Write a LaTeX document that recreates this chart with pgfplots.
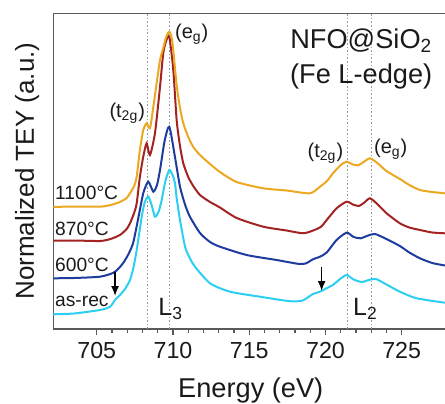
\documentclass[border=0pt]{standalone}
\usepackage{fontspec}
\setmainfont{Liberation Sans}
\usepackage{pgfplots}
\pgfplotsset{compat=1.18}
\usetikzlibrary{arrows.meta}
\definecolor{cyanc}{HTML}{2CCFF2}
\definecolor{bluec}{HTML}{1E3C9E}
\definecolor{redc}{HTML}{A32323}
\definecolor{yellowc}{HTML}{EBA820}
\definecolor{framec}{HTML}{5A5A5A}
\definecolor{txt}{HTML}{1A1A1A}
\begin{document}
\begin{tikzpicture}
\begin{axis}[
  at={(0,0)}, anchor=south west,
  scale only axis, width=200.5pt, height=157.85pt,
  xmin=702.15, xmax=728.45, ymin=74, ymax=389.7,
  axis line style={framec, line width=0.75pt},
  xtick={705,710,...,725}, minor x tick num=4,
  ytick=\empty,
  xtick pos=bottom, tick align=outside,
  major tick length=3pt, minor tick length=1.8pt,
  tick style={framec, line width=0.6pt},
  xticklabel style={font=\fontsize{11.6}{13}\selectfont, text=txt},
  /pgf/number format/assume math mode=true,
  /pgf/number format/1000 sep={},
  clip mode=individual,
]
% dotted guide lines
\addplot[gray!80, line width=0.5pt, dash pattern=on 0.8pt off 1pt] coordinates {(708.3,74) (708.3,389.7)};
\addplot[gray!80, line width=0.5pt, dash pattern=on 0.8pt off 1pt] coordinates {(709.8,74) (709.8,389.7)};
\addplot[gray!80, line width=0.5pt, dash pattern=on 0.8pt off 1pt] coordinates {(721.45,74) (721.45,389.7)};
\addplot[gray!80, line width=0.5pt, dash pattern=on 0.8pt off 1pt] coordinates {(723.05,74) (723.05,389.7)};

% as-rec
\addplot[cyanc, line width=1pt, smooth, tension=0.4] coordinates {
(702.13,88.7) (703.5,89.5) (705.21,93) (705.87,96.3) (706.20,103) (706.52,108) (706.85,114) (707.18,123) (707.4,135) (707.62,153) (707.95,186.3) (708.15,201) (708.38,206.3) (708.6,198) (708.82,186.3) (709.05,191) (709.26,203) (709.5,222) (709.76,233) (709.97,228) (710.13,220) (710.24,205) (710.46,183) (710.79,156.3) (711.1,145) (711.44,136.3) (712.43,119.7) (713.74,111.3) (715.70,106.3) (717.67,101.8) (718.5,102.5) (719.18,109) (719.64,111.3) (720.1,115) (720.49,118) (721.0,124.5) (721.39,128) (721.85,123.5) (722.37,121) (722.85,123) (723.31,124) (724.0,118.5) (724.88,111.3) (725.98,104.7) (727.84,100.3)
};
% 600 C
\addplot[bluec, line width=1pt, smooth, tension=0.4] coordinates {
(702.13,124.7) (703.5,125) (705.21,126.3) (706.06,130) (706.4,134) (706.72,139.7) (707.05,148) (707.38,159.7) (707.70,183) (708.05,209.7) (708.38,221.3) (708.71,211.3) (708.95,218) (709.15,233) (709.45,262) (709.76,276.3) (710.13,246) (710.46,216.3) (710.8,198) (711.11,186.3) (711.77,170) (712.43,161) (713.08,156.3) (714.83,148) (716.8,143) (718.2,139.2) (718.7,139.5) (719.18,143.7) (719.64,146.3) (720.08,150.5) (720.73,163) (721.39,170.3) (721.85,166) (722.3,164.7) (722.8,167.5) (723.25,169) (724.0,164) (724.88,157) (725.5,150.5) (726.2,144.7) (727.0,140) (727.84,137.5)
};
% 870 C
\addplot[redc, line width=1pt, smooth, tension=0.4] coordinates {
(702.13,162.3) (703.5,162.5) (705.21,162) (705.9,164) (706.52,168) (706.96,174) (707.18,179.7) (707.45,190) (707.62,199.7) (707.83,226.3) (708.05,246.3) (708.27,259.7) (708.49,248) (708.82,270) (709.15,316.3) (709.36,349.7) (709.55,362) (709.76,366.3) (710.02,333) (710.24,283) (710.45,258) (710.67,240) (711.0,226) (711.33,217) (711.77,208) (712.43,201) (713.08,195.5) (714.18,185) (715.92,176.3) (717.45,172.5) (718.6,169.8) (719.64,175.5) (720.08,183) (720.73,194.7) (721.39,201.3) (721.8,198.5) (722.2,197) (722.55,200.5) (722.92,204.7) (723.4,199) (724.01,189.7) (724.88,179.7) (725.5,175.5) (726.2,173) (727.0,170.5) (727.84,169.7)
};
% 1100 C
\addplot[yellowc, line width=1pt, smooth, tension=0.4] coordinates {
(702.13,196) (703.5,196.5) (705.21,196.3) (705.9,198) (706.52,201) (706.96,205) (707.18,209.7) (707.45,217) (707.62,226.3) (707.83,253) (708.05,273) (708.27,279.7) (708.49,274.7) (708.7,295) (708.93,320) (709.15,343) (709.36,355) (709.55,366) (709.76,371.3) (709.95,362) (710.24,318) (710.45,296) (710.67,280) (711.0,266) (711.33,256) (711.77,248) (712.43,239) (713.08,231) (714.18,221) (715.92,214.7) (717.45,212.5) (718.98,209.7) (719.64,216.3) (720.1,222) (720.49,229.7) (721.0,238) (721.39,241.3) (721.8,238.5) (722.15,237.7) (722.5,241) (722.92,244.7) (723.4,240) (724.0,232) (724.88,224) (725.5,218) (726.2,213) (727.0,211) (727.84,209.7)
};

% arrows
\draw[-{Latex[length=5pt,width=4pt]}, line width=0.8pt, black] (axis cs:706.2,131) -- (axis cs:706.2,107);
\draw[-{Latex[length=5pt,width=4pt]}, line width=0.8pt, black] (axis cs:719.75,136) -- (axis cs:719.75,112);

% labels
\begin{scope}[every node/.style={text=txt, inner sep=0pt}]
\node[anchor=base west, font=\fontsize{9.6}{11}\selectfont] at (axis cs:702.25,203.5) {1100°C};
\node[anchor=base west, font=\fontsize{9.6}{11}\selectfont] at (axis cs:702.25,168) {870°C};
\node[anchor=base west, font=\fontsize{9.6}{11}\selectfont] at (axis cs:702.25,132) {600°C};
\node[anchor=base west, font=\fontsize{9.6}{11}\selectfont] at (axis cs:702.25,97) {as-rec};
\node[font=\fontsize{10}{12}\selectfont] at (axis cs:707.0,290) {(t\textsubscript{2g})};
\node[font=\fontsize{10}{12}\selectfont] at (axis cs:711.23,369) {(e\textsubscript{g})};
\node[font=\fontsize{10}{12}\selectfont] at (axis cs:720.0,250) {(t\textsubscript{2g})};
\node[font=\fontsize{10}{12}\selectfont] at (axis cs:724.28,254) {(e\textsubscript{g})};
\node[font=\fontsize{12.5}{14}\selectfont] at (axis cs:709.85,94) {L\textsubscript{3}};
\node[font=\fontsize{12.5}{14}\selectfont] at (axis cs:722.63,94) {L\textsubscript{2}};
\node[anchor=base east, font=\fontsize{13.6}{16}\selectfont] at (axis cs:727.03,355) {NFO@SiO\textsubscript{2}};
\node[anchor=base east, font=\fontsize{13.6}{16}\selectfont] at (axis cs:727.03,320) {(Fe L-edge)};
\node[xshift=-9.65pt, rotate=90, anchor=base, font=\fontsize{13}{15}\selectfont] at (axis cs:702.15,231.85) {Normalized TEY (a.u.)};
\node[yshift=-34.3pt, anchor=base, font=\fontsize{13.6}{16}\selectfont] at (axis cs:715.1,74) {Energy (eV)};
\end{scope}
\end{axis}
\pgfresetboundingbox
\path (-26.65pt,-37pt) rectangle (195.85pt,164.5pt);
\end{tikzpicture}
\end{document}
